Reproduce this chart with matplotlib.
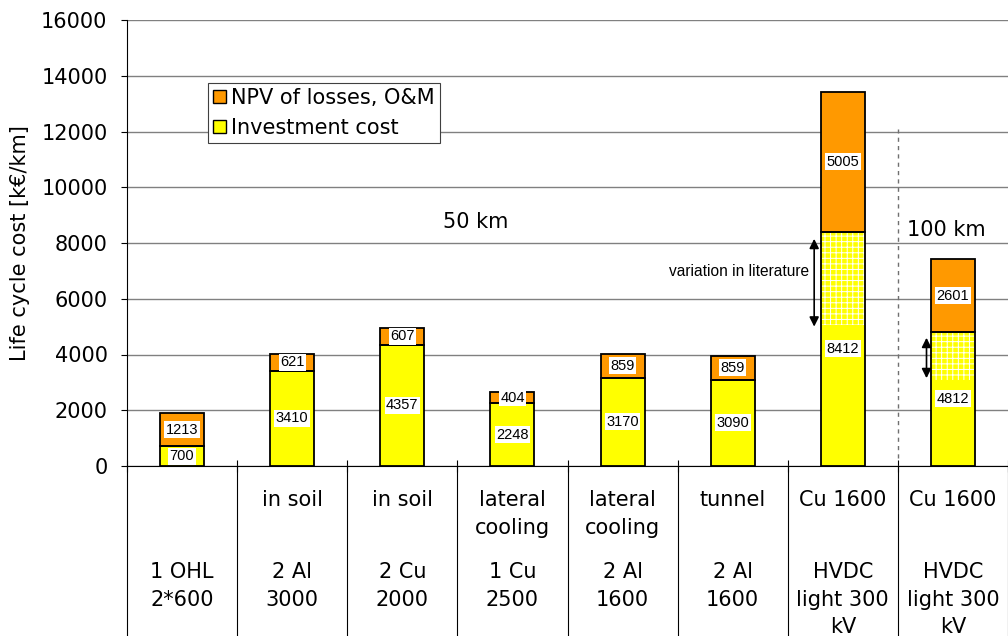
import matplotlib.pyplot as plt
from matplotlib.lines import Line2D
from matplotlib.patches import Patch
import matplotlib.transforms as mtransforms

# data
invest = [700, 3410, 4357, 2248, 3170, 3090, 8412, 4812]
losses = [1213, 621, 607, 404, 859, 859, 5005, 2601]
var_low = [0, 0, 0, 0, 0, 0, 5050, 3100]
row1 = [[], ["in soil"], ["in soil"], ["lateral", "cooling"], ["lateral", "cooling"],
        ["tunnel"], ["Cu 1600"], ["Cu 1600"]]
row2 = [["1 OHL", "2*600"], ["2 Al", "3000"], ["2 Cu", "2000"], ["1 Cu", "2500"],
        ["2 Al", "1600"], ["2 Al", "1600"], ["HVDC", "light 300", "kV"], ["HVDC", "light 300", "kV"]]

plt.rcParams['font.family'] = 'DejaVu Sans'
plt.rcParams['hatch.linewidth'] = 0.7
W, H = 1008, 636
fig = plt.figure(figsize=(W / 100, H / 100), dpi=100)
ax = fig.add_axes([127 / W, (H - 466) / H, (1008 - 127) / W, (466 - 20) / H])

x = list(range(len(invest)))
yellow = '#FFFF00'
orange = '#FF9900'
bw = 0.4
fs = 15
small = dict(family='Liberation Sans')

ax.bar(x, invest, bw, color=yellow, edgecolor='none', zorder=3)
ax.bar(x, losses, bw, bottom=invest, color=orange, edgecolor='none', zorder=3)
# variation in literature (dotted overlay)
for i in x:
    if var_low[i] > 0:
        ax.bar(i, invest[i] - var_low[i], bw, bottom=var_low[i], color=yellow,
               edgecolor='white', hatch='+++', linewidth=0, zorder=4)
ax.bar(x, invest, bw, fill=False, edgecolor='black', linewidth=1.3, zorder=5)
ax.bar(x, losses, bw, bottom=invest, fill=False, edgecolor='black', linewidth=1.3, zorder=5)

# value labels
for i in x:
    for v, b in ((invest[i], 0), (losses[i], invest[i])):
        ax.text(i, b + v / 2, str(v), ha='center', va='center', fontsize=10.5, zorder=6,
                bbox=dict(facecolor='white', edgecolor='none', pad=1.0), **small)

ax.set_xlim(-0.5, 7.5)
ax.set_ylim(0, 16000)
ax.set_yticks(range(0, 16001, 2000))
ax.tick_params(axis='y', labelsize=fs, length=4, width=0.8, pad=10)
ax.set_xticks([i + 0.5 for i in range(-1, 8)])
ax.set_xticklabels([])
ax.tick_params(axis='x', direction='inout', length=8, width=0.8)
ax.grid(axis='y', color='#808080', linewidth=1, zorder=0)
ax.spines['top'].set_visible(False)
ax.spines['right'].set_visible(False)
ax.set_ylabel('Life cycle cost [k€/km]', fontsize=fs, labelpad=8)

# annotations
ax.text(2.67, 8750, '50 km', ha='center', va='center', fontsize=fs)
ax.text(6.94, 8470, '100 km', ha='center', va='center', fontsize=fs)
ax.text(5.69, 6960, 'variation in literature', ha='right', va='center', fontsize=11.2, **small)
ax.annotate('', xy=(5.74, 8250), xytext=(5.74, 4900),
            arrowprops=dict(arrowstyle='<|-|>', color='black', lw=1.2, mutation_scale=14), zorder=6)
ax.annotate('', xy=(6.76, 4700), xytext=(6.76, 3050),
            arrowprops=dict(arrowstyle='<|-|>', color='black', lw=1.2, mutation_scale=14), zorder=6)
ax.plot([6.5, 6.5], [300, 12100], color='#707070', linestyle=(0, (3, 3)), lw=1, zorder=2)

leg = ax.legend([Patch(facecolor=orange, edgecolor='black'), Patch(facecolor=yellow, edgecolor='black')],
                ['NPV of losses, O&M', 'Investment cost'], loc='upper left',
                bbox_to_anchor=((208 - 127) / 881, (466 - 83) / 446), borderaxespad=0,
                fontsize=fs, handlelength=0.6, handleheight=0.6, handletextpad=0.25,
                fancybox=False, framealpha=1, edgecolor='#404040', borderpad=0.25,
                labelspacing=0.45)
leg.get_frame().set_linewidth(0.8)
leg.set_zorder(7)

# table below the axis
trans = mtransforms.blended_transform_factory(ax.transData, fig.transFigure)
for k in range(9):
    fig.add_artist(Line2D([k - 0.5, k - 0.5], [0, (H - 466) / H], transform=trans,
                          color='black', lw=0.8))
for i in x:
    for j, line in enumerate(row1[i]):
        fig.text(i, 1 - (500 + 28 * j) / H, line, transform=trans, ha='center', va='center', fontsize=fs)
    for j, line in enumerate(row2[i]):
        fig.text(i, 1 - (572 + 27.5 * j) / H, line, transform=trans, ha='center', va='center', fontsize=fs)

plt.savefig('out.png', dpi=100)
